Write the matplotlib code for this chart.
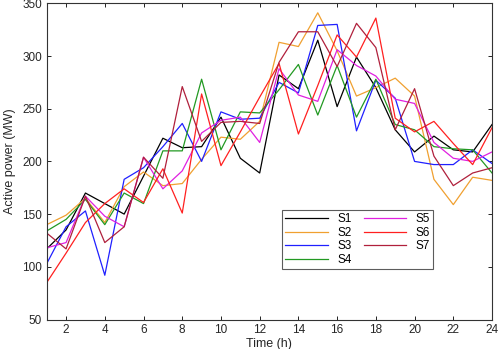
import matplotlib
matplotlib.use('Agg')
import matplotlib.pyplot as plt

# Data
hours = list(range(1, 25))
s1 = [117, 135, 170, 160, 150, 186, 222, 213, 214, 242, 203, 189, 282, 269, 315, 252, 299, 270, 230, 209, 224, 211, 209, 235]
s2 = [140, 149, 165, 142, 176, 190, 177, 179, 202, 223, 221, 238, 313, 309, 341, 305, 262, 270, 279, 262, 183, 159, 185, 182]
s3 = [103, 138, 153, 92, 183, 194, 214, 236, 200, 247, 240, 241, 275, 265, 329, 330, 229, 277, 260, 200, 197, 197, 211, 198]
s4 = [134, 145, 164, 140, 170, 160, 210, 210, 278, 211, 247, 246, 268, 292, 244, 291, 242, 278, 235, 230, 214, 212, 211, 189]
s5 = [118, 123, 167, 148, 138, 204, 174, 191, 227, 239, 242, 218, 288, 263, 257, 306, 291, 281, 259, 255, 218, 203, 200, 209]
s6 = [85, 113, 142, 160, 174, 161, 193, 151, 264, 196, 228, 261, 293, 226, 272, 320, 299, 336, 241, 228, 238, 217, 197, 232]
s7 = [132, 117, 167, 123, 138, 204, 184, 271, 219, 237, 238, 236, 294, 323, 323, 290, 331, 308, 230, 269, 205, 177, 189, 194]

series = [s1, s2, s3, s4, s5, s6, s7]
names = ['S1', 'S2', 'S3', 'S4', 'S5', 'S6', 'S7']
colors = ['#000000', '#f0a030', '#2020ff', '#229922', '#e020e0', '#ff2020', '#b0203c']

plt.rcParams['font.family'] = ['Liberation Sans', 'DejaVu Sans']

fig = plt.figure(figsize=(4.98, 3.49), dpi=100)
ax = fig.add_axes([0.0938, 0.0845, 0.8942, 0.906])

for vals, name, c in zip(series, names, colors):
    ax.plot(hours, vals, color=c, linewidth=0.9, label=name)

ax.set_xlim(1, 24)
ax.set_ylim(50, 350)
ax.set_xticks(range(2, 25, 2))
ax.set_yticks(range(50, 351, 50))
ax.tick_params(direction='in', top=True, right=True, labelsize=8.5, length=3, width=0.6,
               labelcolor='#262626')
for sp in ax.spines.values():
    sp.set_linewidth(0.8)
    sp.set_color('#333333')

ax.set_xlabel('Time (h)', fontsize=9, labelpad=1, color='#262626')
ax.set_ylabel('Active power (MW)', fontsize=9, labelpad=4, color='#262626')

leg = ax.legend(ncol=2, loc='lower left', bbox_to_anchor=(0.528, 0.159),
                borderaxespad=0, fontsize=8.5, handlelength=3.6, frameon=True,
                fancybox=False, edgecolor='#333333', columnspacing=1.0,
                labelspacing=0.12, handletextpad=0.8, borderpad=0.3)
leg.get_frame().set_linewidth(0.8)

fig.savefig('out.png', dpi=100)
